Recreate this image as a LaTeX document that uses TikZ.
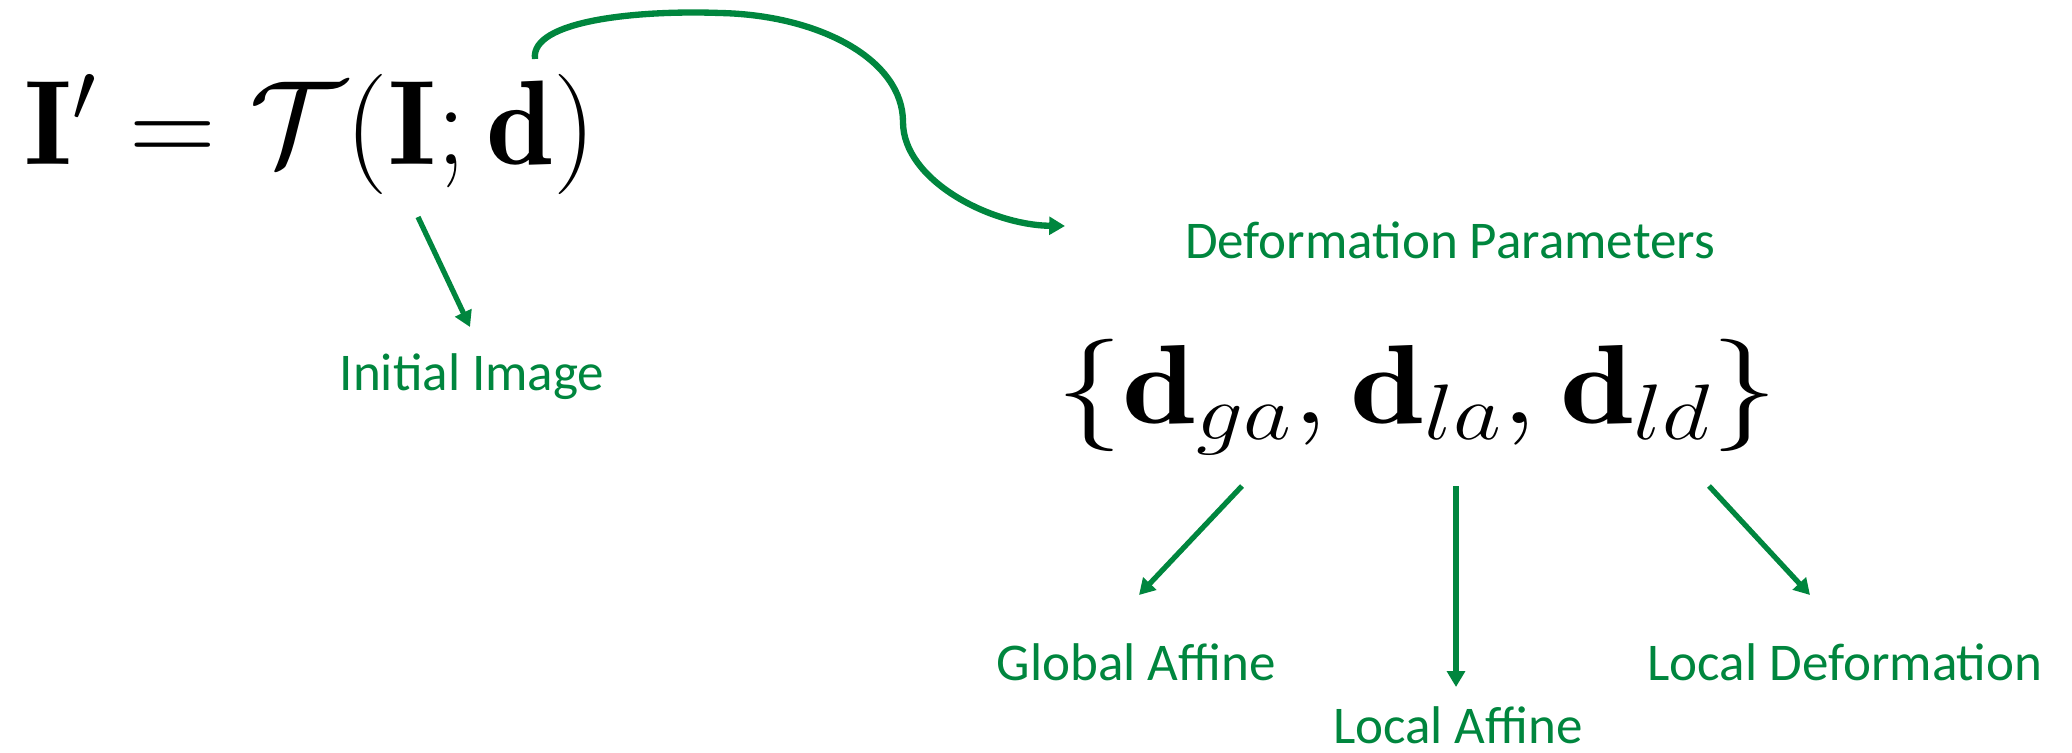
\RequirePackage{fix-cm}
\documentclass[tikz,border=0pt]{standalone}
\usepackage{amsmath,amssymb}
\usepackage{fontspec}
\newfontfamily\calibri{Carlito}
\usepackage{tikz}
\usetikzlibrary{arrows.meta,positioning,calc}
\definecolor{pgreen}{RGB}{0,134,62}

\tikzset{
	lbl/.style={pgreen,inner sep=0pt,anchor=base,font=\calibri\fontsize{30.2}{36}\selectfont},
	arr/.style={pgreen,line width=3pt,-{Triangle[length=9pt,width=10pt]}},
}

\begin{document}
\begin{tikzpicture}[x=0.02cm,y=-0.02cm]
		
		\useasboundingbox
		(0,0) rectangle (2072,753);
		
		\node[anchor=base west,inner sep=0pt,font=\fontsize{68.5}{72}\selectfont]
		(eq) at (24,165)
		{$\mathbf{I}'=\mathcal{T}(\mathbf{I};\mathbf{d})$};
		
		\node[lbl]
		(init) at (472,390)
		{Initial Image};
		
		\node[lbl]
		(ptitle) at (1450,258)
		{Deformation Parameters};
		
		\node[anchor=base,inner sep=0pt,font=\fontsize{64}{70}\selectfont]
		(dset) at (1417,423)
		{\scalebox{1.18}[1]{$\{\mathbf{d}_{ga},\mathbf{d}_{la},\mathbf{d}_{ld}\}$}};
		
		\node[lbl]
		(ga) at (1136,680)
		{Global Affine};
		
		\node[lbl]
		(la) at (1458,743)
		{Local Affine};
		
		\node[lbl]
		(ld) at (1845,680)
		{Local Deformation};
		
		\draw[arr]
		([shift={(394,52)}]eq.base west)
		-- ([shift={(-2,-63)}]init.base);
		
		\draw[arr,line width=3.6pt]
		([shift={(511,-106)}]eq.base west)
		.. controls (530,20) and (640,10) .. (720,13)
		.. controls (820,15) and (903,60) .. (903,122)
		.. controls (903,180) and (990,225) .. ([shift={(-385,-32)}]ptitle.base);
		
		\draw[arr]
		([shift={(-175,63)}]dset.base)
		-- ([shift={(3,-85)}]ga.base);
		
		\draw[arr]
		([shift={(39,63)}]dset.base)
		-- ([shift={(-2,-56)}]la.base);
		
		\draw[arr]
		([shift={(292,63)}]dset.base)
		-- ([shift={(-35,-85)}]ld.base);
		
	\end{tikzpicture}
\end{document}
